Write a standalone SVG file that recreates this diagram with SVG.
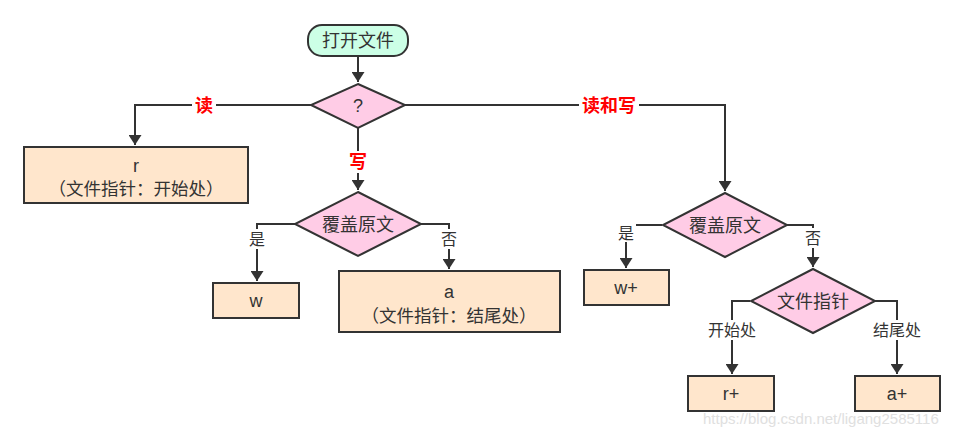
<svg xmlns="http://www.w3.org/2000/svg" width="965" height="436" viewBox="0 0 965 436">
<defs>
<marker id="ah" viewBox="0 0 10 10" refX="10" refY="5" markerWidth="5" markerHeight="6.5" markerUnits="strokeWidth" orient="auto" preserveAspectRatio="none">
<path d="M0,0 L10,5 L0,10 z" fill="#333"/>
</marker>
<style>
text{font-family:"Liberation Sans","Noto Sans CJK SC",sans-serif;fill:#333;text-anchor:middle;dominant-baseline:central}
.n{font-size:18px}
.l{font-size:16px}
.r{font-size:18px;font-weight:bold;fill:#ff0000}
.box{fill:#ffe6cc;stroke:#333;stroke-width:2}
.dia{fill:#ffcce6;stroke:#333;stroke-width:2}
.ln{fill:none;stroke:#333;stroke-width:2}
.bg{fill:#fff}
</style>
</defs>
<rect width="965" height="436" fill="#fff"/>
<g id="edges">
<path class="ln" d="M358,56 L358,82" marker-end="url(#ah)"/>
<path class="ln" d="M311,105 L135,105 L135,145" marker-end="url(#ah)"/>
<path class="ln" d="M358,128 L358,190" marker-end="url(#ah)"/>
<path class="ln" d="M405,105 L725,105 L725,191" marker-end="url(#ah)"/>
<path class="ln" d="M295,224 L257,224 L257,281" marker-end="url(#ah)"/>
<path class="ln" d="M421,224 L449,224 L449,269" marker-end="url(#ah)"/>
<path class="ln" d="M662,225 L626,225 L626,268" marker-end="url(#ah)"/>
<path class="ln" d="M787,225 L813,225 L813,267" marker-end="url(#ah)"/>
<path class="ln" d="M750,301 L732,301 L732,374" marker-end="url(#ah)"/>
<path class="ln" d="M875,301 L897,301 L897,374" marker-end="url(#ah)"/>
<rect class="bg" x="192" y="95" width="24" height="22"/>
<text class="r" x="204" y="106">读</text>
<rect class="bg" x="346" y="151" width="24" height="22"/>
<text class="r" x="358" y="162">写</text>
<rect class="bg" x="579" y="95" width="60" height="22"/>
<text class="r" x="609" y="106">读和写</text>
<rect class="bg" x="247" y="229" width="20" height="20"/>
<text class="l" x="257" y="239">是</text>
<rect class="bg" x="439" y="229" width="20" height="20"/>
<text class="l" x="449" y="239">否</text>
<rect class="bg" x="616" y="222" width="20" height="20"/>
<text class="l" x="626" y="233">是</text>
<rect class="bg" x="803" y="228" width="20" height="20"/>
<text class="l" x="813" y="238">否</text>
<rect class="bg" x="705" y="320" width="54" height="20"/>
<text class="l" x="732" y="330">开始处</text>
<rect class="bg" x="870" y="320" width="54" height="20"/>
<text class="l" x="897" y="330">结尾处</text>
</g>
<g id="start">
<rect x="308" y="25" width="100" height="31" rx="14" ry="14" fill="#ccffe6" stroke="#333" stroke-width="2"/>
<text class="n" x="358" y="41">打开文件</text>
</g>
<g id="q">
<path class="dia" d="M358,84 L405,105 L358,128 L311,105 z"/>
<text class="n" x="358" y="106">?</text>
</g>
<g id="r">
<rect class="box" x="24" y="147" width="224" height="56"/>
<text class="n" x="136" y="166">r</text>
<text class="n" x="136" y="189" style="font-size:17.5px">（文件指针：开始处）</text>
</g>
<g id="cover1">
<path class="dia" d="M358,192 L421,224 L358,256 L295,224 z"/>
<text class="n" x="358" y="225">覆盖原文</text>
</g>
<g id="w">
<rect class="box" x="213" y="283" width="86" height="35"/>
<text class="n" x="256" y="301">w</text>
</g>
<g id="a">
<rect class="box" x="339" y="271" width="221" height="61"/>
<text class="n" x="449" y="292">a</text>
<text class="n" x="449" y="316" style="font-size:17.5px">（文件指针：结尾处）</text>
</g>
<g id="cover2">
<path class="dia" d="M725,193 L787,225 L725,257 L663,225 z"/>
<text class="n" x="725" y="226">覆盖原文</text>
</g>
<g id="wplus">
<rect class="box" x="584" y="270" width="85" height="35"/>
<text class="n" x="626" y="288">w+</text>
</g>
<g id="ptr">
<path class="dia" d="M813,269 L875,301 L813,333 L751,301 z"/>
<text class="n" x="813" y="302">文件指针</text>
</g>
<g id="rplus">
<rect class="box" x="688" y="376" width="86" height="35"/>
<text class="n" x="731" y="394">r+</text>
</g>
<g id="aplus">
<rect class="box" x="855" y="376" width="85" height="35"/>
<text class="n" x="897" y="394">a+</text>
</g>
<text x="703" y="418" style="font-size:15px;fill:#e0e0e0;text-anchor:start">https://blog.csdn.net/ligang2585116</text>
</svg>
